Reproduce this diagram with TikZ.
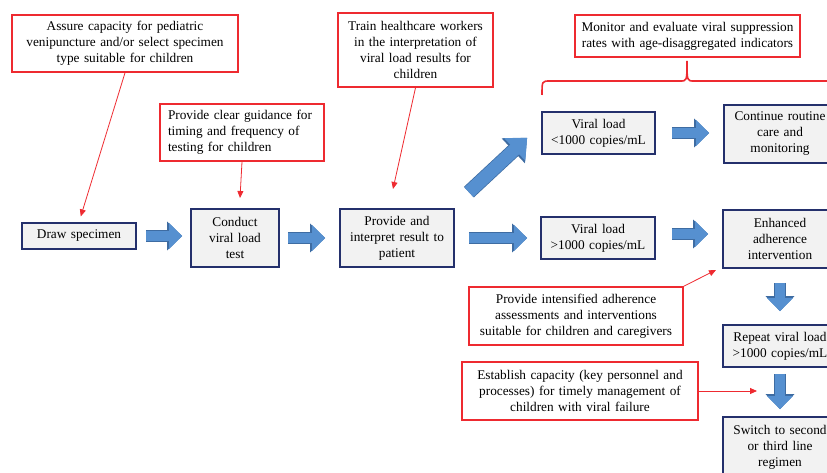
\documentclass[tikz,border=0pt]{standalone}
\usepackage{fontspec}
\setmainfont{Liberation Serif}
\usetikzlibrary{arrows.meta,calc}
\definecolor{stepblue}{RGB}{36,48,108}
\definecolor{stepgray}{RGB}{242,242,242}
\definecolor{notered}{RGB}{238,42,48}
\definecolor{arrowfill}{RGB}{86,144,208}
\definecolor{arrowedge}{RGB}{62,108,162}
\tikzset{
	stepbox/.style={draw=stepblue, line width=1.7pt, fill=stepgray, inner sep=0pt, align=center},
	notebox/.style={draw=notered, line width=1.6pt, fill=white, inner sep=0pt, align=center},
	notearrow/.style={draw=notered, line width=0.8pt, -{Triangle[width=6pt,length=7pt]}},
	blockarrow/.style={draw=arrowfill, line width=10.5pt, -{Triangle[width=25pt,length=13pt]},
		preaction={draw=arrowedge, line width=12pt, -{Triangle[width=28pt,length=15pt]}}},
	wideblockarrow/.style={draw=arrowfill, line width=13pt, -{Triangle[width=30pt,length=17pt]},
		preaction={draw=arrowedge, line width=14.5pt, -{Triangle[width=33pt,length=19pt]}}}
}

\begin{document}
\begin{tikzpicture}[x=1pt, y=-1pt, font=\fontsize{13.3}{16}\selectfont]
		\useasboundingbox (0,0) rectangle (827,473);
		%%%%% STEPS %%%%%
		\node[stepbox, text width=114pt, minimum height=26pt] (drawsp) at (79,236) {Draw specimen};
		\node[stepbox, text width=88pt, minimum height=58pt] (conduct) at (235,238) {Conduct\\ viral load\\ test};
		\node[stepbox, text width=114pt, minimum height=58pt] (provide) at (397,238) {Provide and\\ interpret result to\\ patient};
		\node[stepbox, text width=113pt, minimum height=42pt] (vllow) at (598.5,133) {Viral load\\ <1000 copies/mL};
		\node[stepbox, text width=114pt, minimum height=42pt] (vlhigh) at (598,238) {Viral load\\ >1000 copies/mL};
		\node[stepbox, text width=112pt, minimum height=58pt] (continue) at (780,134) {Continue routine\\ care and\\ monitoring};
		\node[stepbox, text width=114pt, minimum height=58pt] (enhanced) at (780,239) {Enhanced\\ adherence\\ intervention};
		\node[stepbox, text width=114pt, minimum height=42pt] (repeat) at (780,346) {Repeat viral load\\ >1000 copies/mL};
		\node[stepbox, text width=114pt, minimum height=61pt] (switch) at (780,447.5) {Switch to second\\ or third line\\ regimen};
		
		%%%%% NOTES %%%%%
		\node[notebox, text width=226pt, minimum height=57pt] (assure) at (125,43.5) {Assure capacity for pediatric\\ venipuncture and/or select specimen\\ type suitable for children};
		\node[notebox, text width=148pt, inner xsep=8pt, align=left, minimum height=57pt] (guide) at (242,132.5) {Provide clear guidance for\\ timing and frequency of\\ testing for children};
		\node[notebox, text width=155pt, minimum height=74pt] (train) at (415.5,50) {Train healthcare workers\\ in the interpretation of\\ viral load results for\\ children};
		\node[notebox, text width=225pt, minimum height=42pt] (monitor) at (687.5,36) {Monitor and evaluate viral suppression\\ rates with age-disaggregated indicators};
		\node[notebox, text width=214pt, minimum height=58pt] (intens) at (576,316) {Provide intensified adherence\\ assessments and interventions\\ suitable for children and caregivers};
		\node[notebox, text width=236pt, minimum height=58pt] (establish) at (580,391) {Establish capacity (key personnel and\\ processes) for timely management of\\ children with viral failure};
		
		%%%%% BLUE ARROWS %%%%%
		\draw[blockarrow, shorten <=9pt, shorten >=8pt] (drawsp.east) -- (drawsp.east -| conduct.west);
		\draw[blockarrow, shorten <=8pt, shorten >=14pt] (conduct.east) -- (provide.west);
		\draw[blockarrow, shorten <=14pt, shorten >=13pt] (provide.east) -- (vlhigh.west);
		\draw[blockarrow, shorten <=16pt, shorten >=14pt] ([yshift=4pt]vlhigh.east) -- ([yshift=4pt]vlhigh.east -| enhanced.west);
		\draw[blockarrow, shorten <=16pt, shorten >=14pt] (vllow.east) -- (vllow.east -| continue.west);
		\draw[blockarrow, shorten <=14pt, shorten >=13pt] (enhanced.south) -- (repeat.north);
		\draw[blockarrow, shorten <=6pt, shorten >=7pt] (repeat.south) -- (switch.north);
		\coordinate (upfrom) at ($(provide.north east)+(14,-16)$);
		\coordinate (upto) at ($(vllow.south west)+(-14,-17)$);
		\draw[wideblockarrow] (upfrom) -- (upto);
		
		%%%%% RED ARROWS %%%%%
		\coordinate (guidetip) at (240,198);
		\coordinate (traintip) at (393,189);
		\coordinate (intenstip) at (716,270);
		\coordinate (establishtip) at (757,391);
		\draw[notearrow, shorten >=6pt] (assure.south) -- (drawsp.north);
		\draw[notearrow] (guide.south) -- (guidetip);
		\draw[notearrow] (train.south) -- (traintip);
		\draw[notearrow] (intens.north east) -- (intenstip);
		\draw[notearrow] (establish.east) -- (establishtip);
		
		% bracket under monitor
		\draw[notered, line width=1.6pt] (542,95) .. controls (542,81) .. (550,81) -- (680,81)
			.. controls (687,81) .. (687,61) .. controls (687,81) .. (694,81) -- (850,81);
	\end{tikzpicture}
\end{document}
